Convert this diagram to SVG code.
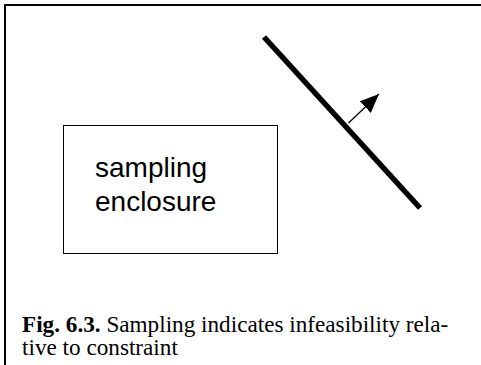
<svg xmlns="http://www.w3.org/2000/svg" width="481" height="365" viewBox="0 0 481 365">
<style>
.frame{fill:none;stroke:#000;stroke-width:2}
.box{fill:#fff;stroke:#000;stroke-width:1}
.label{font-family:"Liberation Sans",Arial,sans-serif;font-size:28px;fill:#000}
.cap{font-family:"Liberation Serif","Times New Roman",serif;font-size:23.2px;fill:#000}
.constraint{stroke:#000;stroke-width:5.5;stroke-linecap:butt}
.arrow{stroke:#000;stroke-width:1.2;fill:none}
</style>
<defs>
<marker id="ah" viewBox="0 0 19 16" refX="19" refY="8" markerWidth="19" markerHeight="16" markerUnits="userSpaceOnUse" orient="auto">
<path d="M0,0 L19,8 L0,16 Z" fill="#000"/>
</marker>
</defs>
<rect class="frame" x="5" y="5" width="500" height="400"/>
<g id="enclosure">
<rect class="box" x="63.5" y="125.5" width="214" height="128"/>
<text class="label" x="95" y="177">sampling</text>
<text class="label" x="95" y="211">enclosure</text>
</g>
<g id="constraint">
<line class="constraint" x1="264" y1="37" x2="420" y2="208"/>
</g>
<g id="connectors">
<line class="arrow" x1="348.5" y1="123" x2="379" y2="94" marker-end="url(#ah)"/>
</g>
<g id="caption">
<text class="cap" x="22" y="332"><tspan font-weight="bold">Fig. 6.3.</tspan> Sampling indicates infeasibility rela-</text>
<text class="cap" x="22" y="355">tive to constraint</text>
</g>
</svg>
